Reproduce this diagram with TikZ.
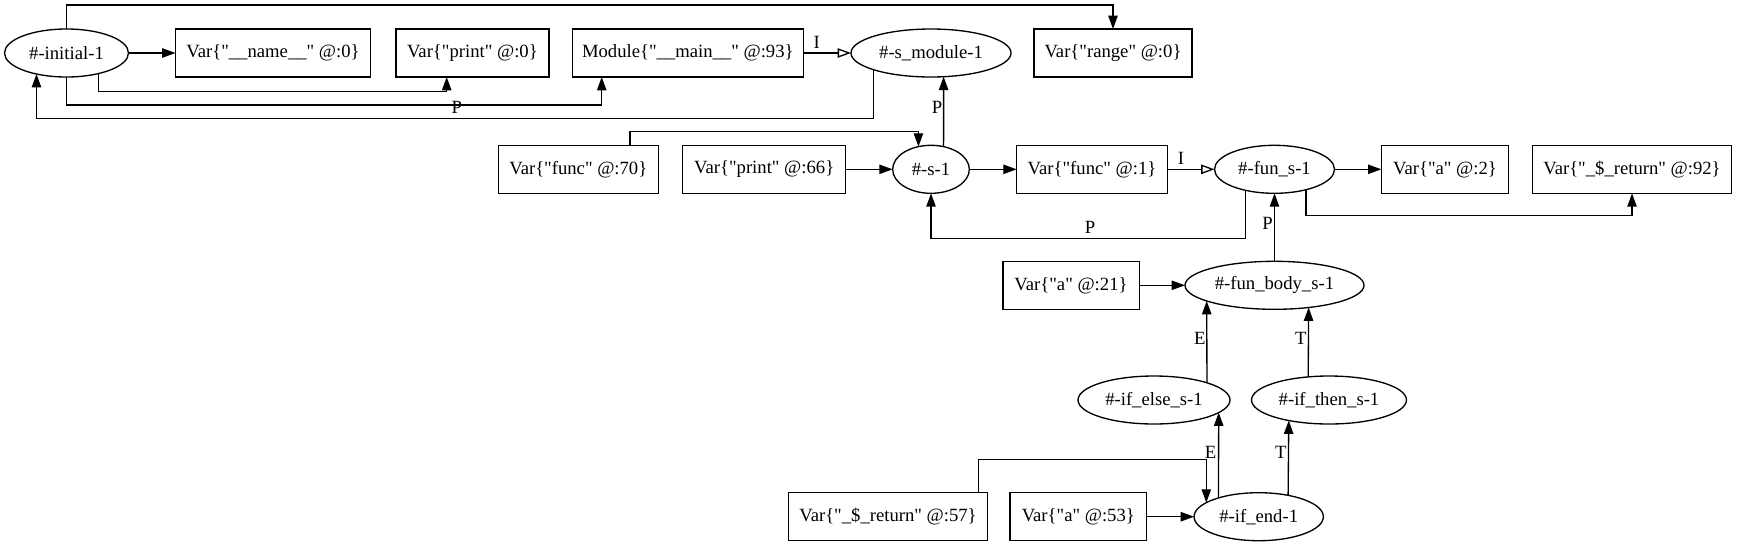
\documentclass[tikz,border=0pt]{standalone}
\usepackage{fontspec}
\setmainfont{Liberation Serif}[Ligatures=TeXOff]
\usetikzlibrary{arrows.meta,shapes.geometric,calc}

\tikzset{
  var/.style={draw, rectangle, minimum height=36pt, inner sep=0pt, outer sep=0pt},
  blk/.style={draw, ellipse, minimum height=36pt, inner sep=0pt, outer sep=0pt},
  wd/.style={minimum width=#1*0.75pt},
  dep/.style={-{Triangle[length=10pt,width=7pt]}},
  inh/.style={-{Triangle[open,length=10pt,width=7pt]}},
  lbl/.style={inner sep=0pt, anchor=base},
}

\begin{document}
\begin{tikzpicture}[x=0.75pt, y=-0.75pt, line width=1pt, font=\fontsize{14}{16}\selectfont]
  \useasboundingbox (0,0) rectangle (1737,547);
  % module level
  \node[blk, wd=124] (initial) at (66.5,53) {\#-initial-1};
  \node[var, wd=195] (name0) at (273,53) {Var\{"\_\_name\_\_" @:0\}};
  \node[var, wd=153] (print0) at (472.4,53) {Var\{"print" @:0\}};
  \node[var, wd=231] (module) at (687.8,53) {Module\{"\_\_main\_\_" @:93\}};
  \node[blk, wd=160] (smodule) at (931,53) {\#-s\_module-1};
  \node[var, wd=158] (range) at (1113,53) {Var\{"range" @:0\}};
  % statement level
  \node[var, wd=160] (func70) at (578.3,169.3) {Var\{"func" @:70\}};
  \node[var, wd=163] (print66) at (764.2,169.3) {Var\{"print" @:66\}};
  \node[blk, wd=76.7] (s1) at (931,169.3) {\#-s-1};
  \node[var, wd=150.7] (func1) at (1092,169.3) {Var\{"func" @:1\}};
  \node[blk, wd=120] (funs) at (1274.5,169.3) {\#-fun\_s-1};
  \node[var, wd=127.3] (a2) at (1445,169.3) {Var\{"a" @:2\}};
  \node[var, wd=198.7] (ret92) at (1632,169.3) {Var\{"\_\$\_return" @:92\}};
  % function body
  \node[var, wd=136.3] (a21) at (1071,285.3) {Var\{"a" @:21\}};
  \node[blk, wd=179] (funbody) at (1274.5,285.3) {\#-fun\_body\_s-1};
  \node[blk, wd=152] (ifelse) at (1154,400) {\#-if\_else\_s-1};
  \node[blk, wd=155] (ifthen) at (1329,400) {\#-if\_then\_s-1};
  \node[var, wd=199.4] (ret57) at (888,516.7) {Var\{"\_\$\_return" @:57\}};
  \node[var, wd=136.7] (a53) at (1078.3,516.7) {Var\{"a" @:53\}};
  \node[blk, wd=129.3] (ifend) at (1258.7,516.7) {\#-if\_end-1};

  \draw[dep] (initial.east) -- (name0.west);
  \draw[dep] (initial.-33.9) -- (initial.-33.9 |- 0,91.7) -| (print0.south -| 446.7,0);
  \draw[dep] (initial.south) -- (initial.south |- 0,105) -| (module.south -| 601.7,0);
  \draw[dep] (initial.north) -- (initial.north |- 0,5) -| (range.north);
  \draw[inh] (module.east) -- (smodule.west);
  \node[lbl] (lI1) at (816.7,48.3) {I};
  \draw[dep] (smodule.-164.8) -- (smodule.-164.8 |- 0,118.3) -| (initial.-145.6);
  \node[lbl] (lP1) at (456.7,113.3) {P};
  \draw[dep] (s1.61.5) -- (smodule.-62.6);
  \node[lbl, anchor=base east] (lP2) at (942.8,113.3) {P};
  \draw[dep] (func70.north -| 630,0) -- (630,131.7) -| (s1.119.3);
  \draw[dep] (print66.east) -- (s1.west);
  \draw[dep] (s1.east) -- (func1.west);
  \draw[inh] (func1.east) -- (funs.west);
  \node[lbl] (lI2) at (1181,164.3) {I};
  \draw[dep] (funs.east) -- (a2.west);
  \draw[dep] (funs.-33.9) -- (funs.-33.9 |- 0,215.7) -| (ret92.south);
  \draw[dep] (funs.-144.5) -- (funs.-144.5 |- 0,238.3) -| (s1.south);
  \node[lbl] (lP3) at (1090,233.3) {P};
  \draw[dep] (funbody.north) -- (funs.south);
  \node[lbl, anchor=base east] (lP4) at (1273.5,229) {P};
  \draw[dep] (a21.east) -- (funbody.west);
  \draw[dep] (ifelse.18.2) -- (funbody.-167.0);
  \node[lbl, anchor=base east] (lE1) at (1206.2,344.3) {E};
  \draw[dep] (ifthen.132.7) -- (funbody.-33.9);
  \node[lbl, anchor=base east] (lT1) at (1307.2,344.3) {T};
  \draw[dep] (ifend.155.8) -- (ifelse.-11.7);
  \node[lbl, anchor=base east] (lE2) at (1217,458.3) {E};
  \draw[dep] (ifend.36.5) -- (ifthen.-153.8);
  \node[lbl, anchor=base east] (lT2) at (1287.2,458.3) {T};
  \draw[dep] (ret57.north -| 978.3,0) -- (978.3,459.5) -| (ifend.165.7);
  \draw[dep] (a53.east) -- (ifend.west);
\end{tikzpicture}
\end{document}
